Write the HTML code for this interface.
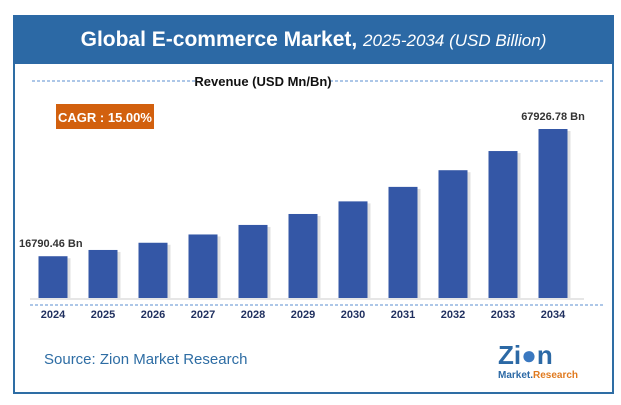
<!DOCTYPE html>
<html><head><meta charset="utf-8"><style>
body{margin:0;width:621px;height:405px;background:#fff;font-family:"Liberation Sans",sans-serif;position:relative;overflow:hidden}
.abs{position:absolute}
</style></head><body>
<div class="abs" style="left:13px;top:15px;width:597px;height:375px;border:2px solid #2E6DA4;"></div>
<div class="abs" style="left:13px;top:15px;width:601px;height:49px;background:#2C69A5;color:#fff;text-align:center;line-height:49px;font-size:21px;font-weight:bold;">Global E-commerce Market, <span style="font-weight:normal;font-style:italic;font-size:17px">2025-2034 (USD Billion)</span></div>
<svg class="abs" style="left:0;top:0" width="621" height="405">
<line x1="32" y1="81" x2="195" y2="81" stroke="#5B8FD0" stroke-dasharray="3,2"/>
<line x1="330" y1="81" x2="603" y2="81" stroke="#5B8FD0" stroke-dasharray="3,2"/>
<text x="263" y="86" text-anchor="middle" font-size="13" font-weight="bold" fill="#111">Revenue (USD Mn/Bn)</text>
<rect x="56" y="104" width="98" height="25" fill="#D2600E"/>
<text x="105" y="122" text-anchor="middle" font-size="13" font-weight="bold" fill="#fff">CAGR : 15.00%</text>
<line x1="30" y1="299" x2="584" y2="299" stroke="#ccc"/>
<line x1="30" y1="305" x2="603" y2="305" stroke="#5B8FD0" stroke-dasharray="3,2"/>
<g id="bars"></g>
<text x="44" y="364" font-size="15" fill="#2E6DA4">Source: Zion Market Research</text>
<g>
<text x="498" y="364" font-size="26" font-weight="bold" fill="#2C69A5">Zi<tspan fill="#3A78C0">●</tspan>n</text>
<text x="498" y="378" font-size="10" font-weight="bold" fill="#2C69A5">Market.<tspan fill="#E07A1F">Research</tspan></text>
</g>
</svg>
<script>
const categories=["2024","2025","2026","2027","2028","2029","2030","2031","2032","2033","2034"];
const values=[16790.46,19309,22205,25536,29366,33771,38837,44662,51362,59066,67926.78];
const firstLabel="16790.46 Bn";
const lastLabel="67926.78 Bn";
const g=document.getElementById('bars');
const NS="http://www.w3.org/2000/svg";
const base=298,maxV=67926.78,maxH=169;
const y=v=>base-v/maxV*maxH;
const x=i=>53+i*50;
values.forEach((v,i)=>{
 const s=document.createElementNS(NS,'rect');
 s.setAttribute('x',x(i)-14.5+3);s.setAttribute('y',y(v)+2);s.setAttribute('width',29);s.setAttribute('height',base-y(v)-2);s.setAttribute('fill','#ccc');s.setAttribute('opacity','0.6');
 
 
 g.appendChild(s);
 const r=document.createElementNS(NS,'rect');
 r.setAttribute('x',x(i)-14.5);r.setAttribute('y',y(v));r.setAttribute('width',29);r.setAttribute('height',base-y(v));r.setAttribute('fill','#3457A6');
 
 
 g.appendChild(r);
 const t=document.createElementNS(NS,'text');
 t.setAttribute('x',x(i));t.setAttribute('y',318);t.setAttribute('text-anchor','middle');t.setAttribute('font-size','11');t.setAttribute('font-weight','bold');t.setAttribute('fill','#1F2F5F');
 t.textContent=categories[i];
 
 
 g.appendChild(t);
});
function lab(txt,xx,yy,anchor){const t=document.createElementNS(NS,'text');t.setAttribute('x',xx);t.setAttribute('y',yy);t.setAttribute('text-anchor',anchor);t.setAttribute('font-size','11');t.setAttribute('font-weight','bold');t.setAttribute('fill','#333');t.textContent=txt;
 
 
 g.appendChild(t);}
lab(firstLabel,19,y(values[0])-9,'start');
lab(lastLabel,x(10),y(values[10])-9,'middle');
</script>
</body></html>
